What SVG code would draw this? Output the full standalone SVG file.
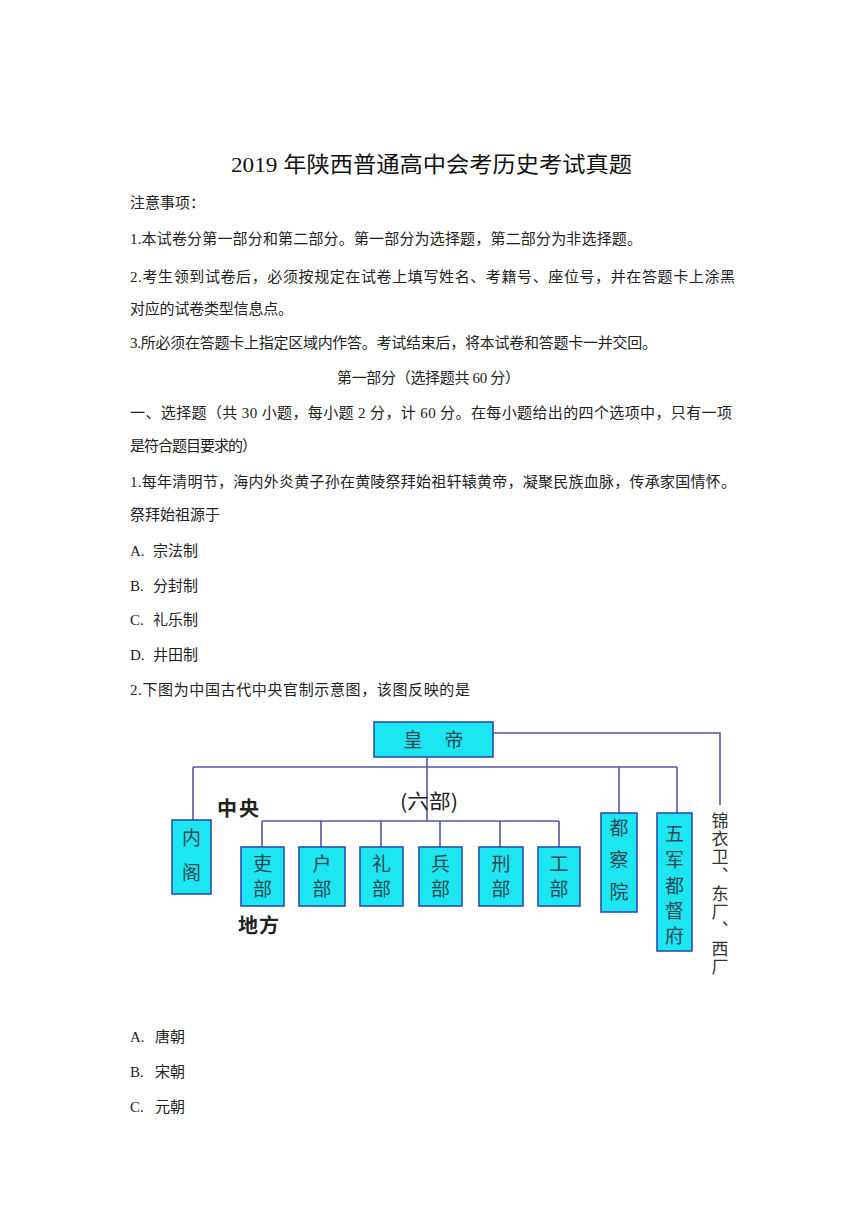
<svg xmlns="http://www.w3.org/2000/svg" width="865" height="1224" viewBox="0 0 865 1224">
<style>
.t{font-family:"Liberation Serif","Noto Sans CJK SC",serif;font-size:15px;fill:#222}
.title{font-family:"Liberation Serif","Noto Sans CJK SC",serif;font-size:22px;fill:#111}
.box{fill:#1de6f3;stroke:#2a4fb5;stroke-width:1.6}
.bt{font-family:"Noto Sans CJK SC",sans-serif;font-size:19px;fill:#2b4650;text-anchor:middle}
.vt{font-family:"Noto Sans CJK SC",sans-serif;font-size:17px;fill:#333;writing-mode:vertical-rl}
.lbl{font-family:"Noto Sans CJK SC",sans-serif;font-size:20px;font-weight:bold;fill:#222}
.ln{fill:none;stroke:#5656a6;stroke-width:1.6}
</style>
<rect width="865" height="1224" fill="#fff"/>
<text class="title" x="231" y="172" textLength="401" lengthAdjust="spacingAndGlyphs">2019 年陕西普通高中会考历史考试真题</text>
<text class="t" x="130" y="208">注意事项：</text>
<text class="t" x="130" y="244" textLength="512" lengthAdjust="spacing">1.本试卷分第一部分和第二部分。第一部分为选择题，第二部分为非选择题。</text>
<text class="t" x="130" y="282" textLength="605" lengthAdjust="spacing">2.考生领到试卷后，必须按规定在试卷上填写姓名、考籍号、座位号，并在答题卡上涂黑</text>
<text class="t" x="130" y="314" textLength="163" lengthAdjust="spacing">对应的试卷类型信息点。</text>
<text class="t" x="130" y="348" textLength="527" lengthAdjust="spacing">3.所必须在答题卡上指定区域内作答。考试结束后，将本试卷和答题卡一并交回。</text>
<text class="t" x="337" y="383" textLength="183" lengthAdjust="spacing">第一部分（选择题共 60 分）</text>
<text class="t" x="130" y="418" textLength="602" lengthAdjust="spacing">一、选择题（共 30 小题，每小题 2 分，计 60 分。在每小题给出的四个选项中，只有一项</text>
<text class="t" x="130" y="451" textLength="127" lengthAdjust="spacing">是符合题目要求的）</text>
<text class="t" x="130" y="487" textLength="606" lengthAdjust="spacing">1.每年清明节，海内外炎黄子孙在黄陵祭拜始祖轩辕黄帝，凝聚民族血脉，传承家国情怀。</text>
<text class="t" x="130" y="520">祭拜始祖源于</text>
<text class="t" x="130" y="556">A.</text><text class="t" x="153" y="556">宗法制</text>
<text class="t" x="130" y="591">B.</text><text class="t" x="153" y="591">分封制</text>
<text class="t" x="130" y="625">C.</text><text class="t" x="153" y="625">礼乐制</text>
<text class="t" x="130" y="660">D.</text><text class="t" x="153" y="660">井田制</text>
<text class="t" x="130" y="695" textLength="340" lengthAdjust="spacing">2.下图为中国古代中央官制示意图，该图反映的是</text>
<text class="t" x="130" y="1042">A.</text><text class="t" x="155" y="1042">唐朝</text>
<text class="t" x="130" y="1077">B.</text><text class="t" x="155" y="1077">宋朝</text>
<text class="t" x="130" y="1112">C.</text><text class="t" x="155" y="1112">元朝</text>

<g id="connectors">
<path class="ln" d="M493,733 H720 V805"/>
<path class="ln" d="M427,757 V821"/>
<path class="ln" d="M193,767 H677"/>
<path class="ln" d="M193,767 V820"/>
<path class="ln" d="M619,767 V813"/>
<path class="ln" d="M677,767 V813"/>
<path class="ln" d="M262,821 H559"/>
<path class="ln" d="M262,821 V847 M321,821 V847 M381,821 V847 M440,821 V847 M500,821 V847 M559,821 V847"/>
</g>

<g id="emperor"><rect class="box" x="374" y="722" width="119" height="35"/>
<text class="bt" x="413" y="747">皇</text><text class="bt" x="454" y="747">帝</text></g>
<g id="neige"><rect class="box" x="172" y="820" width="39" height="74"/>
<text class="bt" x="191.5" y="845">内</text><text class="bt" x="191.5" y="880">阁</text></g>
<g id="libu"><rect class="box" x="241" y="847" width="43" height="59"/>
<text class="bt" x="262.5" y="871">吏</text><text class="bt" x="262.5" y="896">部</text></g>
<g id="hubu"><rect class="box" x="299" y="847" width="46" height="59"/>
<text class="bt" x="322" y="871">户</text><text class="bt" x="322" y="896">部</text></g>
<g id="libu2"><rect class="box" x="360" y="847" width="43" height="59"/>
<text class="bt" x="381.5" y="871">礼</text><text class="bt" x="381.5" y="896">部</text></g>
<g id="bingbu"><rect class="box" x="419" y="847" width="43" height="59"/>
<text class="bt" x="440.5" y="871">兵</text><text class="bt" x="440.5" y="896">部</text></g>
<g id="xingbu"><rect class="box" x="479" y="847" width="44" height="59"/>
<text class="bt" x="501" y="871">刑</text><text class="bt" x="501" y="896">部</text></g>
<g id="gongbu"><rect class="box" x="538" y="847" width="42" height="59"/>
<text class="bt" x="559" y="871">工</text><text class="bt" x="559" y="896">部</text></g>
<g id="duchayuan"><rect class="box" x="601" y="813" width="36" height="99"/>
<text class="bt" x="619" y="835">都</text><text class="bt" x="619" y="867">察</text><text class="bt" x="619" y="899">院</text></g>
<g id="wujun"><rect class="box" x="657" y="813" width="35" height="138"/>
<text class="bt" x="674.5" y="841">五</text><text class="bt" x="674.5" y="867">军</text><text class="bt" x="674.5" y="893">都</text><text class="bt" x="674.5" y="918">督</text><text class="bt" x="674.5" y="943">府</text></g>
<g id="jinyiwei">
<text class="vt" x="720" y="812" textLength="163" lengthAdjust="spacing">锦衣卫、东厂、西厂</text>
</g>
<g id="labels">
<text class="lbl" x="217" y="816" textLength="42">中央</text>
<text class="lbl" style="font-weight:normal" x="400" y="809" textLength="58" lengthAdjust="spacingAndGlyphs">(六部)</text>
<text class="lbl" x="238" y="933" textLength="41">地方</text>
</g>
</svg>
